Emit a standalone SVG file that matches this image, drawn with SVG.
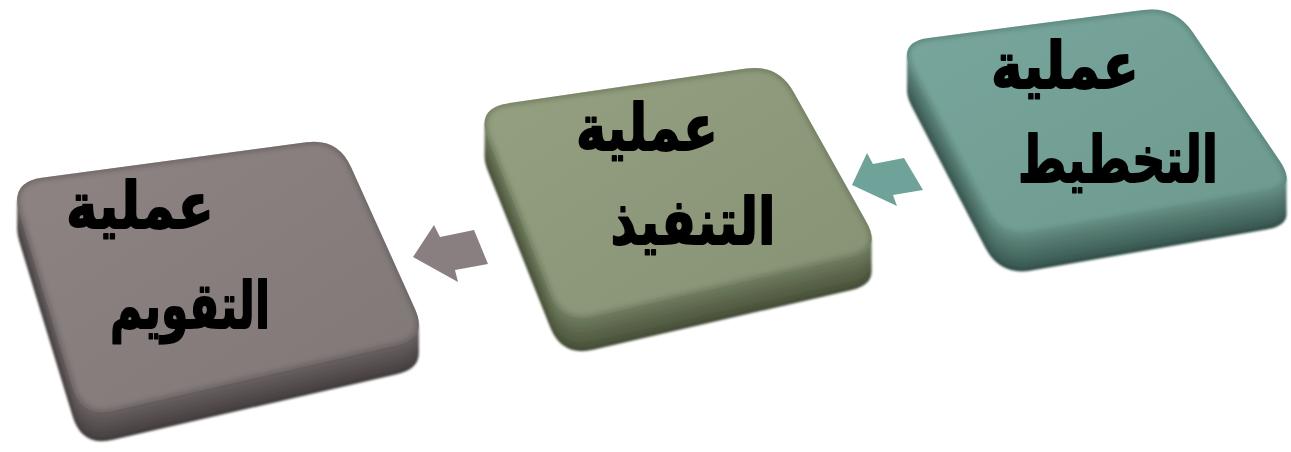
<svg xmlns="http://www.w3.org/2000/svg" xmlns:xlink="http://www.w3.org/1999/xlink" width="1291" height="452" viewBox="0 0 1291 452">
<style>
.lbl{font-family:"DejaVu Sans","Noto Sans",sans-serif;font-weight:bold;font-size:64px;fill:#000;stroke:#000;stroke-width:1.8;stroke-linejoin:round;text-anchor:middle;direction:rtl}
</style>
<defs>
<path id="f1" d="M928.7,37.9 L1143.3,10.1 Q1175,6 1192.9,32.5 L1280.1,161.5 Q1298,188 1266.5,193.5 L1031.5,234.5 Q1000,240 985.2,211.6 L911.8,70.4 Q897,42 928.7,37.9 Z"/>
<path id="f2" d="M507.7,103.4 L746.3,68.6 Q778,64 793.6,91.9 L866.4,222.1 Q882,250 850.8,257.2 L593.2,316.8 Q562,324 550.2,294.3 L487.8,137.7 Q476,108 507.7,103.4 Z"/>
<path id="f3" d="M41.7,177.7 L306.3,142.3 Q338,138 351.1,167.2 L414.9,308.8 Q428,338 396.8,345.2 L113.2,410.8 Q82,418 72.7,387.4 L19.3,212.6 Q10,182 41.7,177.7 Z"/>
<linearGradient id="gt1" x1="0" y1="0" x2="1" y2="1"><stop offset="0" stop-color="#79A69C"/><stop offset="1" stop-color="#6D998F"/></linearGradient>
<linearGradient id="gt2" x1="0" y1="0" x2="1" y2="1"><stop offset="0" stop-color="#94A080"/><stop offset="1" stop-color="#869274"/></linearGradient>
<linearGradient id="gt3" x1="0" y1="0" x2="1" y2="1"><stop offset="0" stop-color="#8E8484"/><stop offset="1" stop-color="#807777"/></linearGradient>
<filter id="soft" x="-5%" y="-5%" width="110%" height="110%"><feGaussianBlur stdDeviation="0.9"/></filter>
<filter id="rim" x="-5%" y="-5%" width="110%" height="110%"><feGaussianBlur stdDeviation="2"/></filter>
<clipPath id="c1"><use xlink:href="#f1"/></clipPath>
<clipPath id="c2"><use xlink:href="#f2"/></clipPath>
<clipPath id="c3"><use xlink:href="#f3"/></clipPath>
</defs>

<g id="connectors">
<polygon fill="#8A7F80" points="413,257 434,225 440,237 474,230 488,264 455,270 458,282"/>
<polygon fill="#6FA39A" points="852,185 867,153 873,164 904,158 923,190 893,195 897,206"/>
</g>

<g id="node-planning">
<g filter="url(#soft)">
<use xlink:href="#f1" y="36" fill="#33504A"/>
<use xlink:href="#f1" y="32" fill="#3C5C55"/>
<use xlink:href="#f1" y="27" fill="#43655D"/>
<use xlink:href="#f1" y="22" fill="#496C64"/>
<use xlink:href="#f1" y="17" fill="#4F736B"/>
<use xlink:href="#f1" y="12" fill="#557A71"/>
<use xlink:href="#f1" y="7" fill="#5B8177"/>
<use xlink:href="#f1" y="3" fill="#62887E"/>
</g>
<use xlink:href="#f1" fill="url(#gt1)"/>
<g clip-path="url(#c1)"><use xlink:href="#f1" fill="none" stroke="#4E7870" stroke-width="6" opacity="0.55" filter="url(#rim)"/></g>
<text class="lbl" x="1065" y="88" textLength="148" lengthAdjust="spacingAndGlyphs">عملية</text>
<text class="lbl" x="1118" y="182" textLength="200" lengthAdjust="spacingAndGlyphs">التخطيط</text>
</g>

<g id="node-execution">
<g filter="url(#soft)">
<use xlink:href="#f2" y="33" fill="#454D37"/>
<use xlink:href="#f2" y="29" fill="#4D563E"/>
<use xlink:href="#f2" y="24" fill="#545E44"/>
<use xlink:href="#f2" y="19" fill="#5A644A"/>
<use xlink:href="#f2" y="14" fill="#606B50"/>
<use xlink:href="#f2" y="9" fill="#667256"/>
<use xlink:href="#f2" y="4" fill="#6D795C"/>
</g>
<use xlink:href="#f2" fill="url(#gt2)"/>
<g clip-path="url(#c2)"><use xlink:href="#f2" fill="none" stroke="#626D52" stroke-width="6" opacity="0.55" filter="url(#rim)"/></g>
<text class="lbl" x="647" y="150" textLength="142" lengthAdjust="spacingAndGlyphs">عملية</text>
<text class="lbl" x="693" y="244" textLength="165" lengthAdjust="spacingAndGlyphs">التنفيذ</text>
</g>

<g id="node-evaluation">
<g filter="url(#soft)">
<use xlink:href="#f3" y="29" fill="#433D3D"/>
<use xlink:href="#f3" y="25" fill="#4B4444"/>
<use xlink:href="#f3" y="20" fill="#524B4B"/>
<use xlink:href="#f3" y="15" fill="#585151"/>
<use xlink:href="#f3" y="10" fill="#5E5757"/>
<use xlink:href="#f3" y="5" fill="#655D5D"/>
</g>
<use xlink:href="#f3" fill="url(#gt3)"/>
<g clip-path="url(#c3)"><use xlink:href="#f3" fill="none" stroke="#5E5656" stroke-width="6" opacity="0.55" filter="url(#rim)"/></g>
<text class="lbl" x="140" y="228" textLength="148" lengthAdjust="spacingAndGlyphs">عملية</text>
<text class="lbl" x="190" y="328" textLength="160" lengthAdjust="spacingAndGlyphs">التقويم</text>
</g>
</svg>
